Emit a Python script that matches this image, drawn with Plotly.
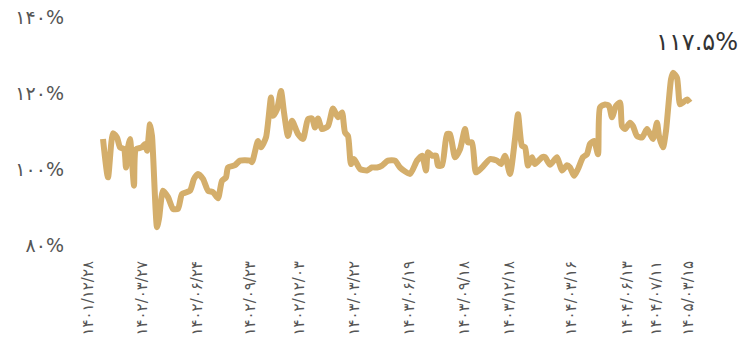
import plotly.graph_objects as go

# trading-day index of sampled points
days = [0, 5, 10, 14, 17, 21, 23, 25, 27, 31, 33, 39, 42, 44, 47, 49, 54, 56, 60, 65,
        70, 75, 79, 87, 91, 95, 100, 105, 110, 115, 119, 123, 125, 132, 137, 147, 149, 155, 158, 163,
        168, 170, 174, 178, 181, 185, 189, 195, 200, 205, 209, 212, 215, 219, 225, 230, 235, 239, 242, 245,
        248, 251, 257, 264, 269, 274, 279, 285, 292, 297, 307, 314, 319, 323, 325, 329, 333, 335, 339, 344,
        347, 352, 357, 362, 365, 369, 373, 379, 387, 394, 398, 402, 407, 412, 415, 419, 422, 425, 429, 432,
        439, 442, 447, 454, 459, 464, 467, 471, 475, 480, 484, 487, 491, 495, 497, 502, 506, 509, 513, 517,
        519, 522, 527, 530, 534, 539, 544, 547, 550, 554, 556, 560, 563, 568, 570, 574, 577, 580, 584, 587]

values = [107.9, 97.8, 109.4, 108.3, 105.7, 105.2, 100.4, 105.7, 107.9, 95.6, 105.2, 105.7, 106.6, 104.8, 111.8, 108.7, 84.7, 86.9, 94.3, 92.6,
          89.5, 89.5, 93.4, 94.3, 97.4, 98.7, 97.4, 94.3, 93.9, 92.3, 96.9, 97.8, 100.4, 101.0, 102.2, 102.2, 101.8, 107.4, 105.7, 108.3,
          118.8, 114.0, 115.7, 120.5, 114.9, 108.7, 112.7, 109.2, 107.9, 113.1, 113.3, 110.9, 113.3, 110.5, 111.3, 115.9, 113.6, 114.9, 109.6, 108.7,
          101.3, 102.6, 100.0, 99.6, 100.4, 100.4, 100.9, 102.2, 102.2, 100.4, 98.7, 102.2, 103.5, 99.6, 104.4, 103.5, 103.5, 100.9, 100.9, 109.2,
          109.2, 103.1, 105.2, 110.5, 107.0, 107.0, 99.1, 100.4, 102.6, 102.2, 101.3, 103.5, 98.7, 107.9, 114.4, 106.1, 105.7, 100.9, 103.1, 101.3,
          103.1, 103.1, 101.1, 103.1, 99.6, 101.0, 100.4, 98.2, 100.0, 103.1, 103.9, 106.6, 107.4, 103.9, 116.2, 117.0, 116.6, 113.6, 116.6, 117.5,
          111.3, 110.5, 112.2, 111.3, 108.7, 108.3, 110.5, 109.2, 107.9, 112.2, 108.7, 105.7, 110.0, 123.6, 125.3, 124.0, 117.0, 117.5, 118.3, 117.5]

tick_days = [-15, 39, 94, 147, 196, 251, 306, 361, 406, 468, 524, 553, 585]
tick_labels = ["۱۴۰۱/۱۲/۲۸", "۱۴۰۲/۰۳/۲۷", "۱۴۰۲/۰۶/۲۴", "۱۴۰۲/۰۹/۲۳", "۱۴۰۲/۱۲/۰۳",
               "۱۴۰۳/۰۳/۲۲", "۱۴۰۳/۰۶/۱۹", "۱۴۰۳/۰۹/۱۸", "۱۴۰۳/۱۲/۱۸", "۱۴۰۴/۰۳/۱۶",
               "۱۴۰۴/۰۶/۱۳", "۱۴۰۴/۰۷/۱۱", "۱۴۰۵/۰۳/۱۵"]

y_ticks = [80, 100, 120, 140]
y_labels = ["۸۰%", "۱۰۰%", "۱۲۰%", "۱۴۰%"]
last_label = "۱۱۷.۵%"

FONT = "DejaVu Sans"

fig = go.Figure()
fig.add_trace(go.Scatter(
    x=days, y=values, mode="lines",
    line=dict(color="#d4ae6b", width=6, shape="spline", smoothing=0.6),
    hoverinfo="skip", showlegend=False,
))

fig.update_layout(
    width=743, height=357,
    margin=dict(l=80, r=48, t=17, b=112),
    paper_bgcolor="white", plot_bgcolor="white",
    font=dict(family=FONT, color="#555555"),
    xaxis=dict(range=[-23, 592], tickmode="array", tickvals=tick_days, ticktext=tick_labels,
               tickangle=-90, showgrid=False, zeroline=False, showline=False, automargin=False,
               ticks="", ticklabelstandoff=12, tickfont=dict(size=15, color="#555555", family=FONT)),
    yaxis=dict(range=[80, 140], tickmode="array", tickvals=y_ticks, ticktext=y_labels,
               showgrid=False, zeroline=False, showline=False, ticks="", automargin=False,
               ticklabelstandoff=15, tickfont=dict(size=19, color="#555555", family=FONT)),
    annotations=[dict(text=last_label, xref="paper", yref="paper", x=1.073, y=0.89,
                      xanchor="right", yanchor="middle", showarrow=False,
                      font=dict(size=24, color="#333333", family=FONT))],
)

fig.write_html("out.html", config={"displayModeBar": False},
               post_script="document.body.style.margin='0';document.body.style.overflow='hidden';")
